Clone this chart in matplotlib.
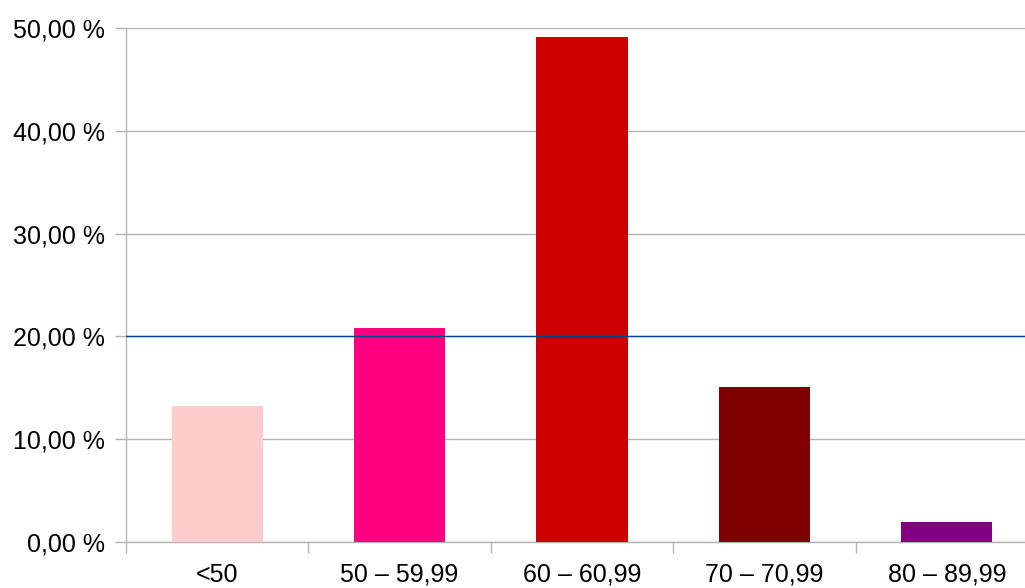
import numpy as np
import matplotlib.pyplot as plt
from matplotlib.ticker import FixedLocator, FuncFormatter

plt.rcParams['font.family'] = ['Liberation Sans', 'DejaVu Sans']

# data
categories = ['<50', '50 – 59,99', '60 – 60,99', '70 – 70,99', '80 – 89,99']
shares = [13.2, 20.8, 49.1, 15.1, 1.9]
colors = ['#ffcccc', '#ff0080', '#cc0000', '#800000', '#800080']
reference_level = 20.0
y_ticks = [0, 10, 20, 30, 40, 50]

fig = plt.figure(figsize=(10.25, 5.88), dpi=100)
# axes run slightly past the right edge of the picture, like the original
ax = fig.add_axes([126 / 1025, 1 - 542 / 588, 912 / 1025, 514 / 588])

x = np.arange(len(categories))
ax.bar(x, shares, width=0.5, color=colors, zorder=3)
ax.axhline(reference_level, color='#004586', linewidth=1.0, zorder=4)

ax.set_xlim(-0.5, len(categories) - 0.5)
ax.set_ylim(0, 50)

ax.set_yticks(y_ticks)
ax.yaxis.set_major_formatter(FuncFormatter(lambda v, p: f'{v:.2f} %'.replace('.', ',')))
ax.grid(axis='y', color='#b3b3b3', linewidth=1.0, zorder=0)

ax.set_xticks(x)
ax.set_xticklabels(categories)
ax.xaxis.set_minor_locator(FixedLocator(np.arange(-0.5, len(categories), 1.0)))
ax.tick_params(axis='x', which='major', length=0, pad=15, labelsize=18)
ax.tick_params(axis='x', which='minor', length=8, width=1, color='#b3b3b3')
ax.tick_params(axis='y', length=8, width=1, color='#b3b3b3', pad=7, labelsize=18)

for side in ['top', 'right']:
    ax.spines[side].set_visible(False)
for side in ['left', 'bottom']:
    ax.spines[side].set_color('#b3b3b3')
    ax.spines[side].set_linewidth(1.0)

fig.savefig('out.png', dpi=100)
